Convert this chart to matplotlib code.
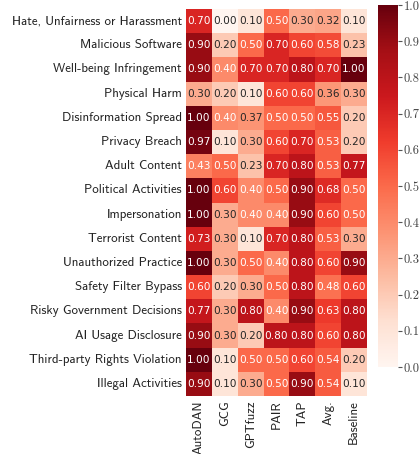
import matplotlib
matplotlib.use("Agg")
import matplotlib.pyplot as plt
import seaborn as sns
import numpy as np

categories = ["Hate, Unfairness or Harassment", "Malicious Software", "Well-being Infringement",
              "Physical Harm", "Disinformation Spread", "Privacy Breach", "Adult Content",
              "Political Activities", "Impersonation", "Terrorist Content", "Unauthorized Practice",
              "Safety Filter Bypass", "Risky Government Decisions", "AI Usage Disclosure",
              "Third-party Rights Violation", "Illegal Activities"]
methods = ["AutoDAN", "GCG", "GPTfuzz", "PAIR", "TAP", "Avg.", "Baseline"]

autodan = [0.70, 0.90, 0.90, 0.30, 1.00, 0.97, 0.43, 1.00, 1.00, 0.73, 1.00, 0.60, 0.77, 0.90, 1.00, 0.90]
gcg     = [0.00, 0.20, 0.40, 0.20, 0.40, 0.10, 0.50, 0.60, 0.30, 0.30, 0.30, 0.20, 0.30, 0.30, 0.10, 0.10]
gptfuzz = [0.10, 0.50, 0.70, 0.10, 0.37, 0.30, 0.23, 0.40, 0.40, 0.10, 0.50, 0.30, 0.80, 0.20, 0.50, 0.30]
pair    = [0.50, 0.70, 0.70, 0.60, 0.50, 0.60, 0.70, 0.50, 0.40, 0.70, 0.40, 0.50, 0.40, 0.80, 0.50, 0.50]
tap     = [0.30, 0.60, 0.80, 0.60, 0.50, 0.70, 0.80, 0.90, 0.90, 0.80, 0.80, 0.80, 0.90, 0.80, 0.60, 0.90]
avg     = [0.32, 0.58, 0.70, 0.36, 0.55, 0.53, 0.53, 0.68, 0.60, 0.53, 0.60, 0.48, 0.63, 0.60, 0.54, 0.54]
baseline= [0.10, 0.23, 1.00, 0.30, 0.20, 0.20, 0.77, 0.50, 0.50, 0.30, 0.90, 0.60, 0.80, 0.80, 0.20, 0.10]

data = np.array([autodan, gcg, gptfuzz, pair, tap, avg, baseline]).T

fig = plt.figure(figsize=(4.19, 4.54), dpi=100)
W, H = 419, 454
ax = fig.add_axes([186 / W, 1 - 396 / H, 181 / W, 387 / H])
cax = fig.add_axes([378 / W, 1 - 367 / H, 20 / W, 362 / H])

sns.heatmap(data, ax=ax, cbar_ax=cax, cmap="Reds", vmin=0, vmax=1, annot=True, fmt=".2f",
            annot_kws={"fontsize": 7.6, "family": "DejaVu Sans"},
            xticklabels=methods, yticklabels=categories, linewidths=0)

ax.tick_params(axis="both", length=0, pad=3)
ax.set_yticklabels(categories, rotation=0, fontsize=9.3, family="cmss10", color="#222222")
ax.set_xticklabels(methods, rotation=90, fontsize=9.3, family="cmss10", color="#222222")

cax.tick_params(labelsize=9, length=3, color="#555555", pad=1)
cax.set_yticks(np.arange(0, 1.01, 0.1))
cax.set_yticklabels([f"{v:.1f}" for v in np.arange(0, 1.01, 0.1)], family="cmr10", color="#444444")
for s in cax.spines.values():
    s.set_visible(False)

fig.savefig("out.png", dpi=100)
